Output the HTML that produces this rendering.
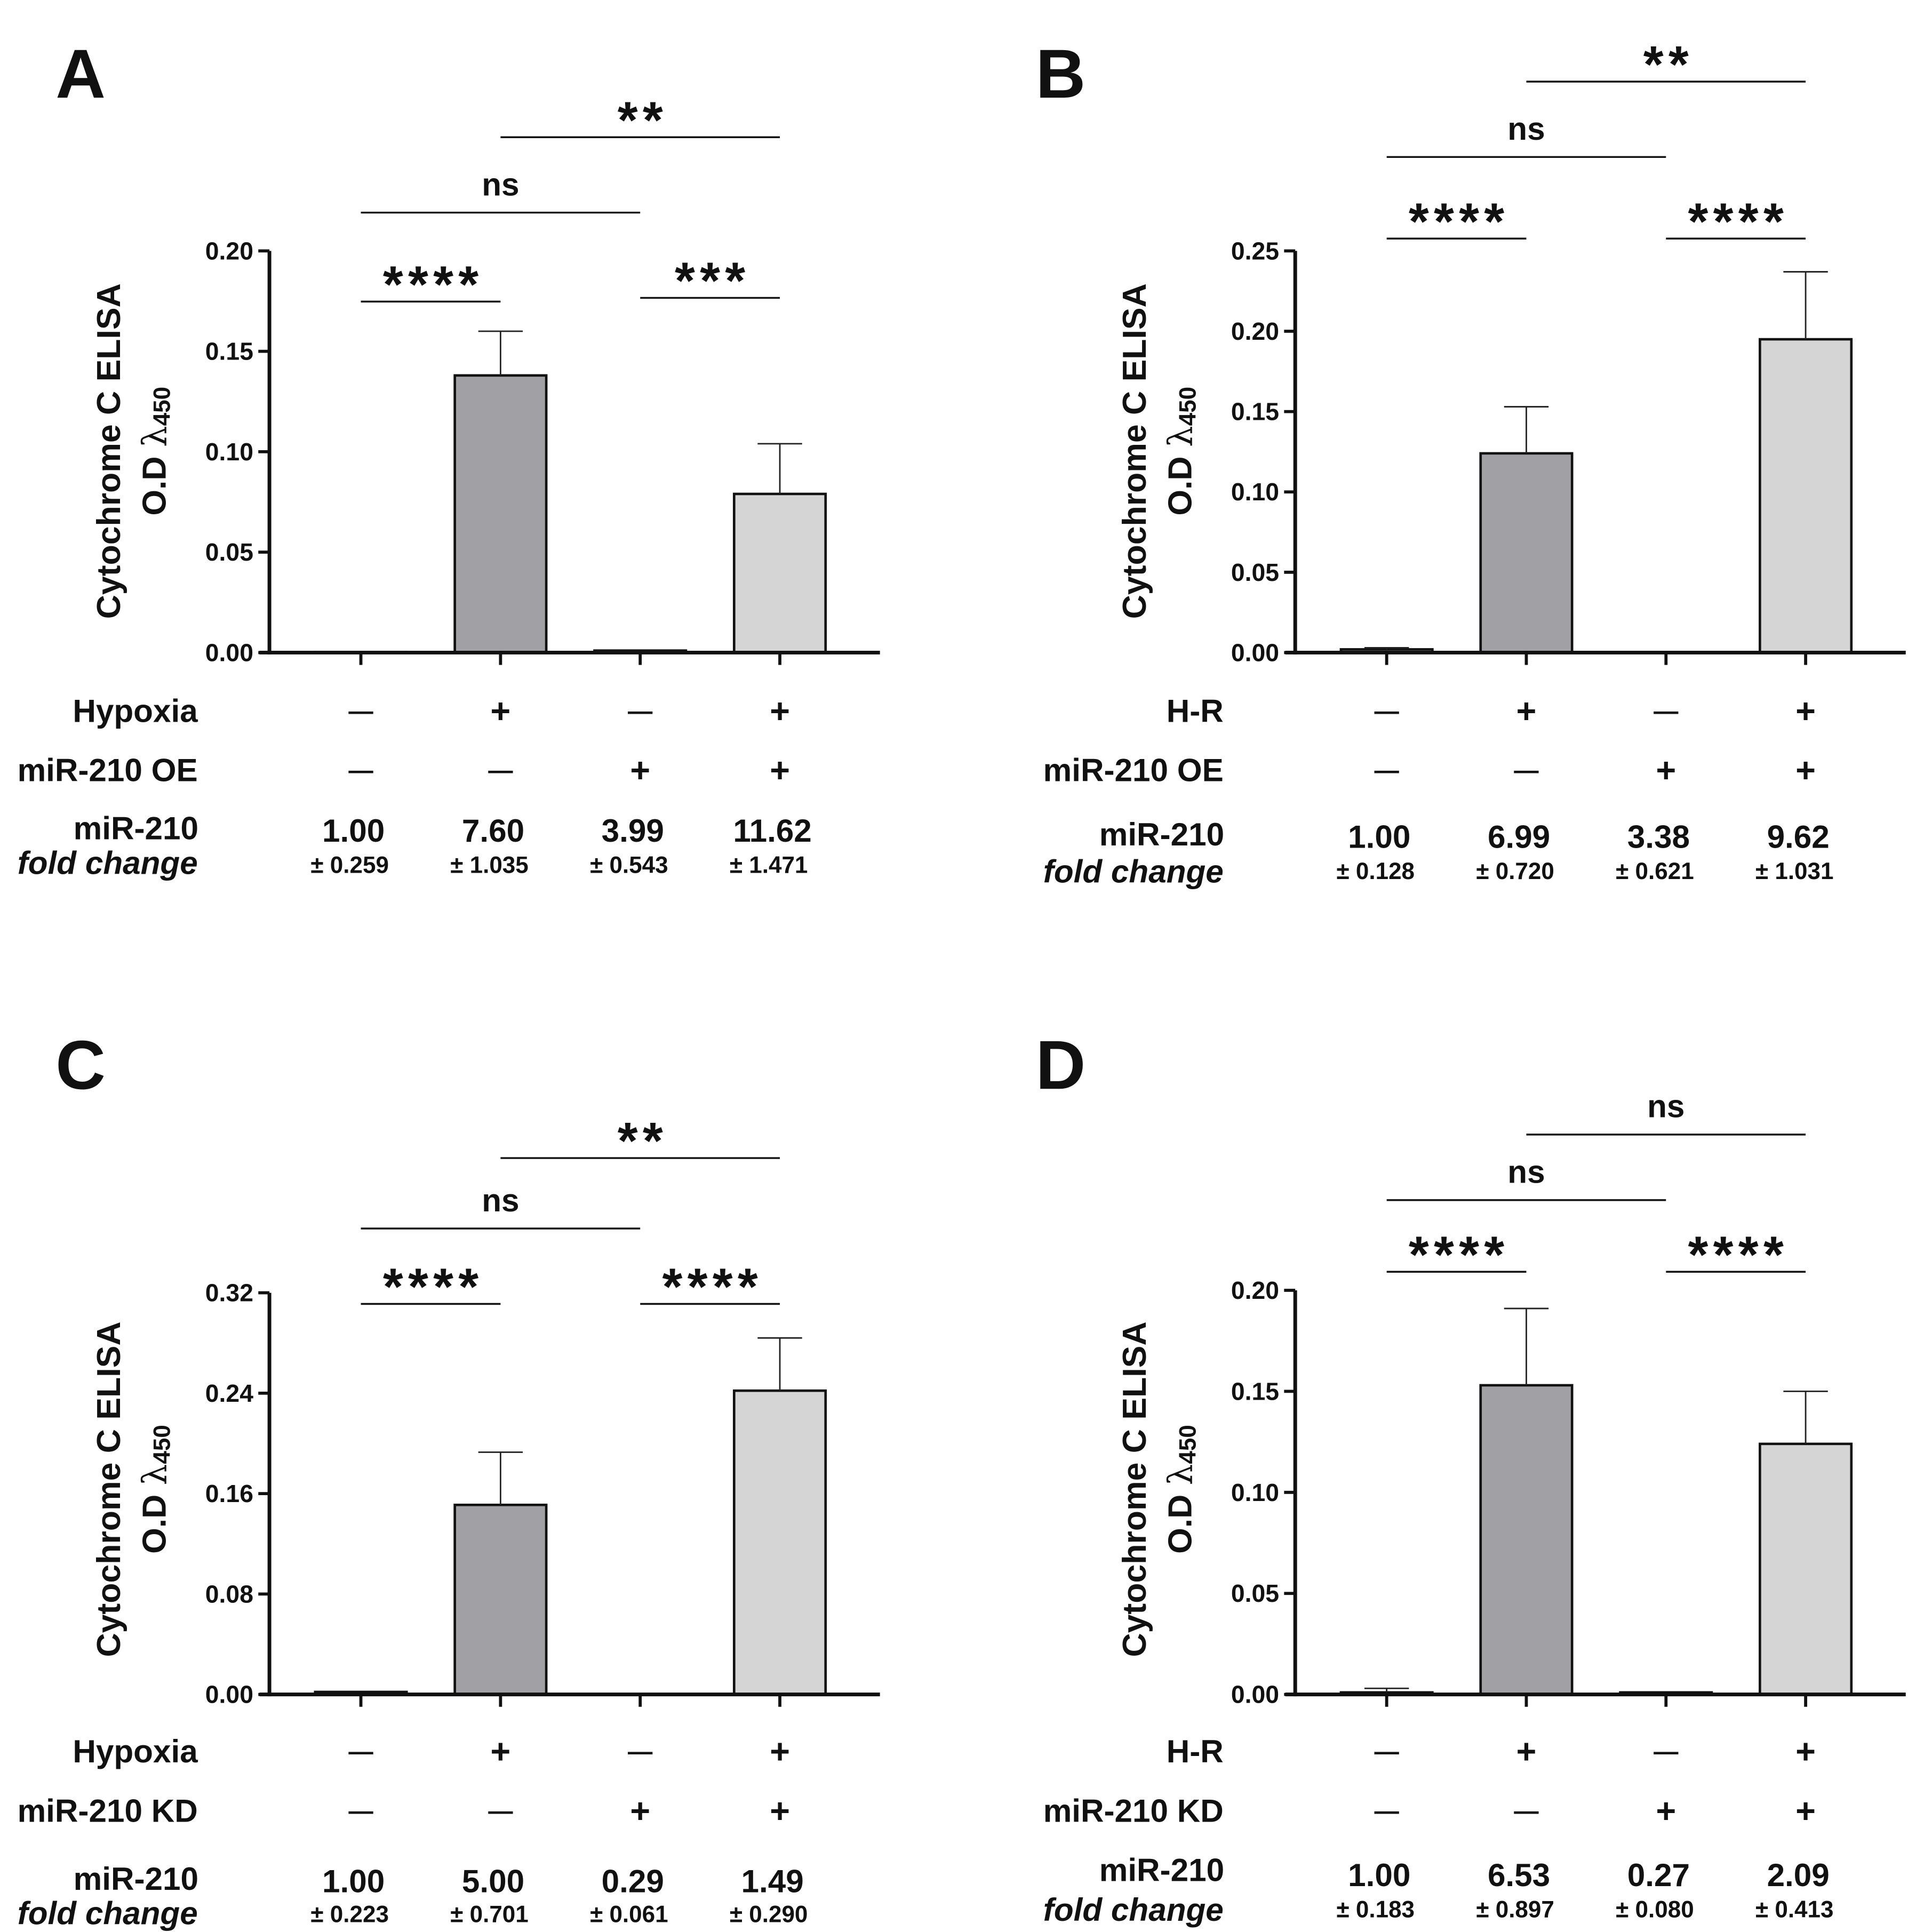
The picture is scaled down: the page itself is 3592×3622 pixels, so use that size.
<!DOCTYPE html>
<html><head><meta charset="utf-8"><style>
html,body{margin:0;padding:0;background:#fff}
svg{display:block}
text{font-family:"Liberation Sans",Arial,sans-serif;font-weight:bold;fill:#111}
</style></head><body>
<svg id="fig" width="3592" height="3622" viewBox="0 0 1550.3 1563.2" xmlns="http://www.w3.org/2000/svg" xml:space="preserve"></svg>
<script>
// Data per panel
const panelLetters = ["A","B","C","D"];
const barMeans = [[0.0003,0.138,0.001,0.079],[0.002,0.124,0.0003,0.195],[0.002,0.151,0.0003,0.242],[0.001,0.153,0.001,0.124]];
const barErrors = [[0,0.022,0,0.025],[0.001,0.029,0,0.042],[0,0.042,0,0.042],[0.002,0.038,0,0.026]];
const yMaxes = [0.20,0.25,0.32,0.20];
const yTickLabels = [["0.00","0.05","0.10","0.15","0.20"],["0.00","0.05","0.10","0.15","0.20","0.25"],["0.00","0.08","0.16","0.24","0.32"],["0.00","0.05","0.10","0.15","0.20"]];
const row1Names = ["Hypoxia","H-R","Hypoxia","H-R"];
const row2Names = ["miR-210 OE","miR-210 OE","miR-210 KD","miR-210 KD"];
const row1Signs = ["—","+","—","+"];
const row2Signs = ["—","—","+","+"];
const foldValues = [["1.00","7.60","3.99","11.62"],["1.00","6.99","3.38","9.62"],["1.00","5.00","0.29","1.49"],["1.00","6.53","0.27","2.09"]];
const foldErrors = [["± 0.259","± 1.035","± 0.543","± 1.471"],["± 0.128","± 0.720","± 0.621","± 1.031"],["± 0.223","± 0.701","± 0.061","± 0.290"],["± 0.183","± 0.897","± 0.080","± 0.413"]];
const sigLabels = [["****","***","ns","**"],["****","****","ns","**"],["****","****","ns","**"],["****","****","ns","ns"]];
const sigPairs = [[0,1],[2,3],[0,2],[1,3]];

// layout (not data)
const layouts = [
 {ax:218,top:203,bot:528,xend:712,letterY:60,sigY:[244,241,172,111],rows:[575,623,670,698,672,700],titleY:365},
 {ax:1048,top:203,bot:528,xend:1542,letterY:60,sigY:[193,193,127,66],rows:[575,623,675,705,677,705],titleY:365},
 {ax:218,top:1046,bot:1371,xend:712,letterY:862,sigY:[1055,1055,994,937],rows:[1417,1465,1520,1548,1522,1549],titleY:1205},
 {ax:1048,top:1044,bot:1371,xend:1542,letterY:862,sigY:[1029,1029,971,918],rows:[1417,1465,1513,1545,1517,1545],titleY:1205}
];
const NS="http://www.w3.org/2000/svg";
const svg=document.getElementById('fig');
function mk(tag,attrs,parent){const e=document.createElementNS(NS,tag);for(const k in attrs)e.setAttribute(k,attrs[k]);(parent||svg).appendChild(e);return e;}
function txt(str,x,y,size,anchor,parent,extra){const t=mk('text',Object.assign({x:x,y:y,'font-size':size,'text-anchor':anchor||'middle','dominant-baseline':'central'},extra||{}),parent);t.textContent=str;return t;}

layouts.forEach((L,p)=>{
  const g=mk('g',{});
  
  
  const xc=i=>L.ax+74+i*113;
  const ys=v=>L.bot-(v/yMaxes[p])*(L.bot-L.top);
  const lt=txt(panelLetters[p],p%2?L.ax-210:L.ax-173,L.letterY,56,'start',g);
  
  
  barMeans[p].forEach((v,i)=>{
    const y=ys(v), fill=(i===1)?'#a1a1a5':'#d5d5d5';
    const r=mk('rect',{x:xc(i)-37,y:y,width:74,height:Math.max(L.bot-y,0.5),fill:fill,stroke:'#111','stroke-width':2},g);
    
    
    const e=barErrors[p][i];
    if(e>0){
      const ye=ys(v+e);
      const el=mk('path',{d:`M${xc(i)},${y}V${ye}M${xc(i)-18},${ye}H${xc(i)+18}`,stroke:'#222','stroke-width':1.2,fill:'none'},g);
      
      
    }
  });
  const ya=mk('line',{x1:L.ax,y1:L.top,x2:L.ax,y2:L.bot+1.5,stroke:'#111','stroke-width':3},g);
  
  
  const xa=mk('line',{x1:L.ax-8,y1:L.bot,x2:L.xend,y2:L.bot,stroke:'#111','stroke-width':3},g);
  
  
  yTickLabels[p].forEach((lab,k)=>{
    const v=yMaxes[p]*k/(yTickLabels[p].length-1), y=ys(v);
    mk('line',{x1:L.ax-9,y1:y,x2:L.ax,y2:y,stroke:'#111','stroke-width':2.5},g);
    const t=txt(lab,L.ax-13,y,20,'end',g);
    
    
  });
  for(let i=0;i<4;i++) mk('line',{x1:xc(i),y1:L.bot,x2:xc(i),y2:L.bot+10,stroke:'#111','stroke-width':2.5},g);
  const t1=txt('Cytochrome C  ELISA',0,0,27,'middle',g,{transform:`translate(${L.ax-130},${L.titleY}) rotate(-90)`});
  
  
  const t2=mk('text',{x:0,y:0,'font-size':27,'text-anchor':'middle','dominant-baseline':'central',transform:`translate(${L.ax-93},${L.titleY}) rotate(-90)`},g);
  
  
  t2.innerHTML='O.D <tspan font-weight="normal" font-family="DejaVu Serif">λ</tspan><tspan font-size="19" dy="6">450</tspan>';
  sigPairs.forEach((pr,k)=>{
    const y=L.sigY[k], x1=xc(pr[0]), x2=xc(pr[1]);
    const ln=mk('line',{x1:x1,y1:y,x2:x2,y2:y,stroke:'#111','stroke-width':1.5},g);
    
    
    const star=sigLabels[p][k]!=='ns';
    const st=txt(sigLabels[p][k],(x1+x2)/2+(star?2:0),star?y-14:y-23,star?42:26,'middle',g,star?{'letter-spacing':'4'}:{});
    
    
  });
  const lx=L.ax-58;
  const r1=txt(row1Names[p],lx,L.rows[0],26,'end',g);
  
  
  const r2=txt(row2Names[p],lx,L.rows[1],26,'end',g);
  
  
  const mx=lx-50;
  const m1=txt('miR-210',mx,L.rows[2],26,'middle',g);
  
  
  const m2=txt('fold change',lx,L.rows[3],26,'end',g,{'font-style':'italic'});
  
  
  for(let i=0;i<4;i++){
    const a=txt(row1Signs[i],xc(i),L.rows[0],row1Signs[i]==='+'?28:20,'middle',g);
    
    
    const b=txt(row2Signs[i],xc(i),L.rows[1],row2Signs[i]==='+'?28:20,'middle',g);
    
    
    const c=txt(foldValues[p][i],xc(i)-6,L.rows[4],26,'middle',g);
    
    
    const d=txt(foldErrors[p][i],xc(i)-9,L.rows[5],19,'middle',g);
    
    
  }
});
</script>
</body></html>
